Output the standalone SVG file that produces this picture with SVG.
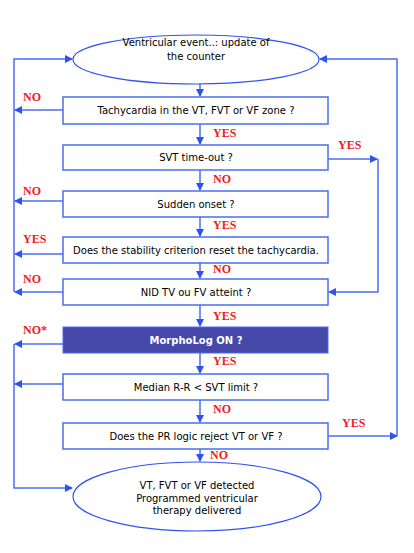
<svg xmlns="http://www.w3.org/2000/svg" width="414" height="553" viewBox="0 0 414 553">
<defs>
<marker id="ah" markerWidth="8" markerHeight="8" refX="7" refY="4" orient="auto" markerUnits="userSpaceOnUse">
<path d="M0,0 L8,4 L0,8 Z" fill="#2f52f2"/>
</marker>
<style>
.ln{fill:none;stroke:#4a6cf2;stroke-width:1.5}
.bx{fill:#fff;stroke:#4a6cf2;stroke-width:1.5}
.el{fill:#fff;stroke:#2f52f2;stroke-width:1.2}
.t{font-family:"DejaVu Sans",Verdana,sans-serif;font-size:10px;fill:#000;text-anchor:middle}
.tw{font-family:"DejaVu Sans",Verdana,sans-serif;font-size:10px;font-weight:bold;fill:#fff;text-anchor:middle}
.lb{font-family:"Liberation Serif","Times New Roman",serif;font-size:12px;font-weight:bold;fill:#ee1c1c}
</style>
</defs>
<rect width="414" height="553" fill="#fff"/>
<g id="connectors">
<line class="ln" x1="200" y1="84" x2="200" y2="96" marker-end="url(#ah)"/>
<line class="ln" x1="200" y1="124" x2="200" y2="144" marker-end="url(#ah)"/>
<line class="ln" x1="200" y1="170" x2="200" y2="190" marker-end="url(#ah)"/>
<line class="ln" x1="200" y1="217" x2="200" y2="236" marker-end="url(#ah)"/>
<line class="ln" x1="200" y1="263" x2="200" y2="278" marker-end="url(#ah)"/>
<line class="ln" x1="200" y1="305" x2="200" y2="326" marker-end="url(#ah)"/>
<line class="ln" x1="200" y1="353" x2="200" y2="373" marker-end="url(#ah)"/>
<line class="ln" x1="200" y1="400" x2="200" y2="422" marker-end="url(#ah)"/>
<line class="ln" x1="200" y1="449" x2="200" y2="461" marker-end="url(#ah)"/>
<line class="ln" x1="63" y1="110" x2="15" y2="110" marker-end="url(#ah)"/>
<line class="ln" x1="63" y1="201" x2="15" y2="201" marker-end="url(#ah)"/>
<line class="ln" x1="63" y1="254" x2="15" y2="254" marker-end="url(#ah)"/>
<line class="ln" x1="63" y1="292" x2="15" y2="292" marker-end="url(#ah)"/>
<polyline class="ln" points="14,292 14,59 72,59" marker-end="url(#ah)"/>
<line class="ln" x1="63" y1="344" x2="15" y2="344" marker-end="url(#ah)"/>
<line class="ln" x1="63" y1="384" x2="15" y2="384" marker-end="url(#ah)"/>
<polyline class="ln" points="14,344 14,488 72,488" marker-end="url(#ah)"/>
<line class="ln" x1="328" y1="159" x2="377" y2="159" marker-end="url(#ah)"/>
<polyline class="ln" points="378,159 378,292 329,292" marker-end="url(#ah)"/>
<line class="ln" x1="328" y1="436" x2="397" y2="436" marker-end="url(#ah)"/>
<polyline class="ln" points="397,436 397,59 320,59" marker-end="url(#ah)"/>
</g>
<g id="start">
<ellipse class="el" cx="196" cy="59.5" rx="123" ry="24.5"/>
<text class="t" x="196" y="46">Ventricular event..: update of</text>
<text class="t" x="196" y="60">the counter</text>
</g>
<g id="q1">
<rect class="bx" x="63" y="97" width="265" height="27"/>
<text class="t" x="196" y="114">Tachycardia in the VT, FVT or VF zone ?</text>
</g>
<g id="q2">
<rect class="bx" x="63" y="145" width="265" height="25"/>
<text class="t" x="196" y="161">SVT time-out ?</text>
</g>
<g id="q3">
<rect class="bx" x="63" y="191" width="265" height="26"/>
<text class="t" x="196" y="208">Sudden onset ?</text>
</g>
<g id="q4">
<rect class="bx" x="63" y="237" width="265" height="26"/>
<text class="t" x="196" y="254">Does the stability criterion reset the tachycardia.</text>
</g>
<g id="q5">
<rect class="bx" x="63" y="279" width="265" height="26"/>
<text class="t" x="196" y="296">NID TV ou FV atteint ?</text>
</g>
<g id="q6">
<rect x="63" y="327" width="265" height="26" fill="#4548a8" stroke="#4a6cf2" stroke-width="1"/>
<text class="tw" x="196" y="344">MorphoLog ON ?</text>
</g>
<g id="q7">
<rect class="bx" x="63" y="374" width="265" height="26"/>
<text class="t" x="196" y="391">Median R-R &lt; SVT limit ?</text>
</g>
<g id="q8">
<rect class="bx" x="63" y="423" width="265" height="26"/>
<text class="t" x="196" y="440">Does the PR logic reject VT or VF ?</text>
</g>
<g id="end">
<ellipse class="el" cx="197" cy="496.5" rx="124" ry="34.5"/>
<text class="t" x="197" y="489">VT, FVT or VF detected</text>
<text class="t" x="197" y="502">Programmed ventricular</text>
<text class="t" x="197" y="514">therapy delivered</text>
</g>
<g id="labels">
<text class="lb" x="23" y="101">NO</text>
<text class="lb" x="213" y="137">YES</text>
<text class="lb" x="338" y="149">YES</text>
<text class="lb" x="213" y="183">NO</text>
<text class="lb" x="23" y="195">NO</text>
<text class="lb" x="213" y="229">YES</text>
<text class="lb" x="23" y="243">YES</text>
<text class="lb" x="213" y="273">NO</text>
<text class="lb" x="23" y="283">NO</text>
<text class="lb" x="213" y="320">YES</text>
<text class="lb" x="23" y="334">NO*</text>
<text class="lb" x="213" y="365">YES</text>
<text class="lb" x="213" y="413">NO</text>
<text class="lb" x="342" y="427">YES</text>
<text class="lb" x="210" y="459">NO</text>
</g>
</svg>
